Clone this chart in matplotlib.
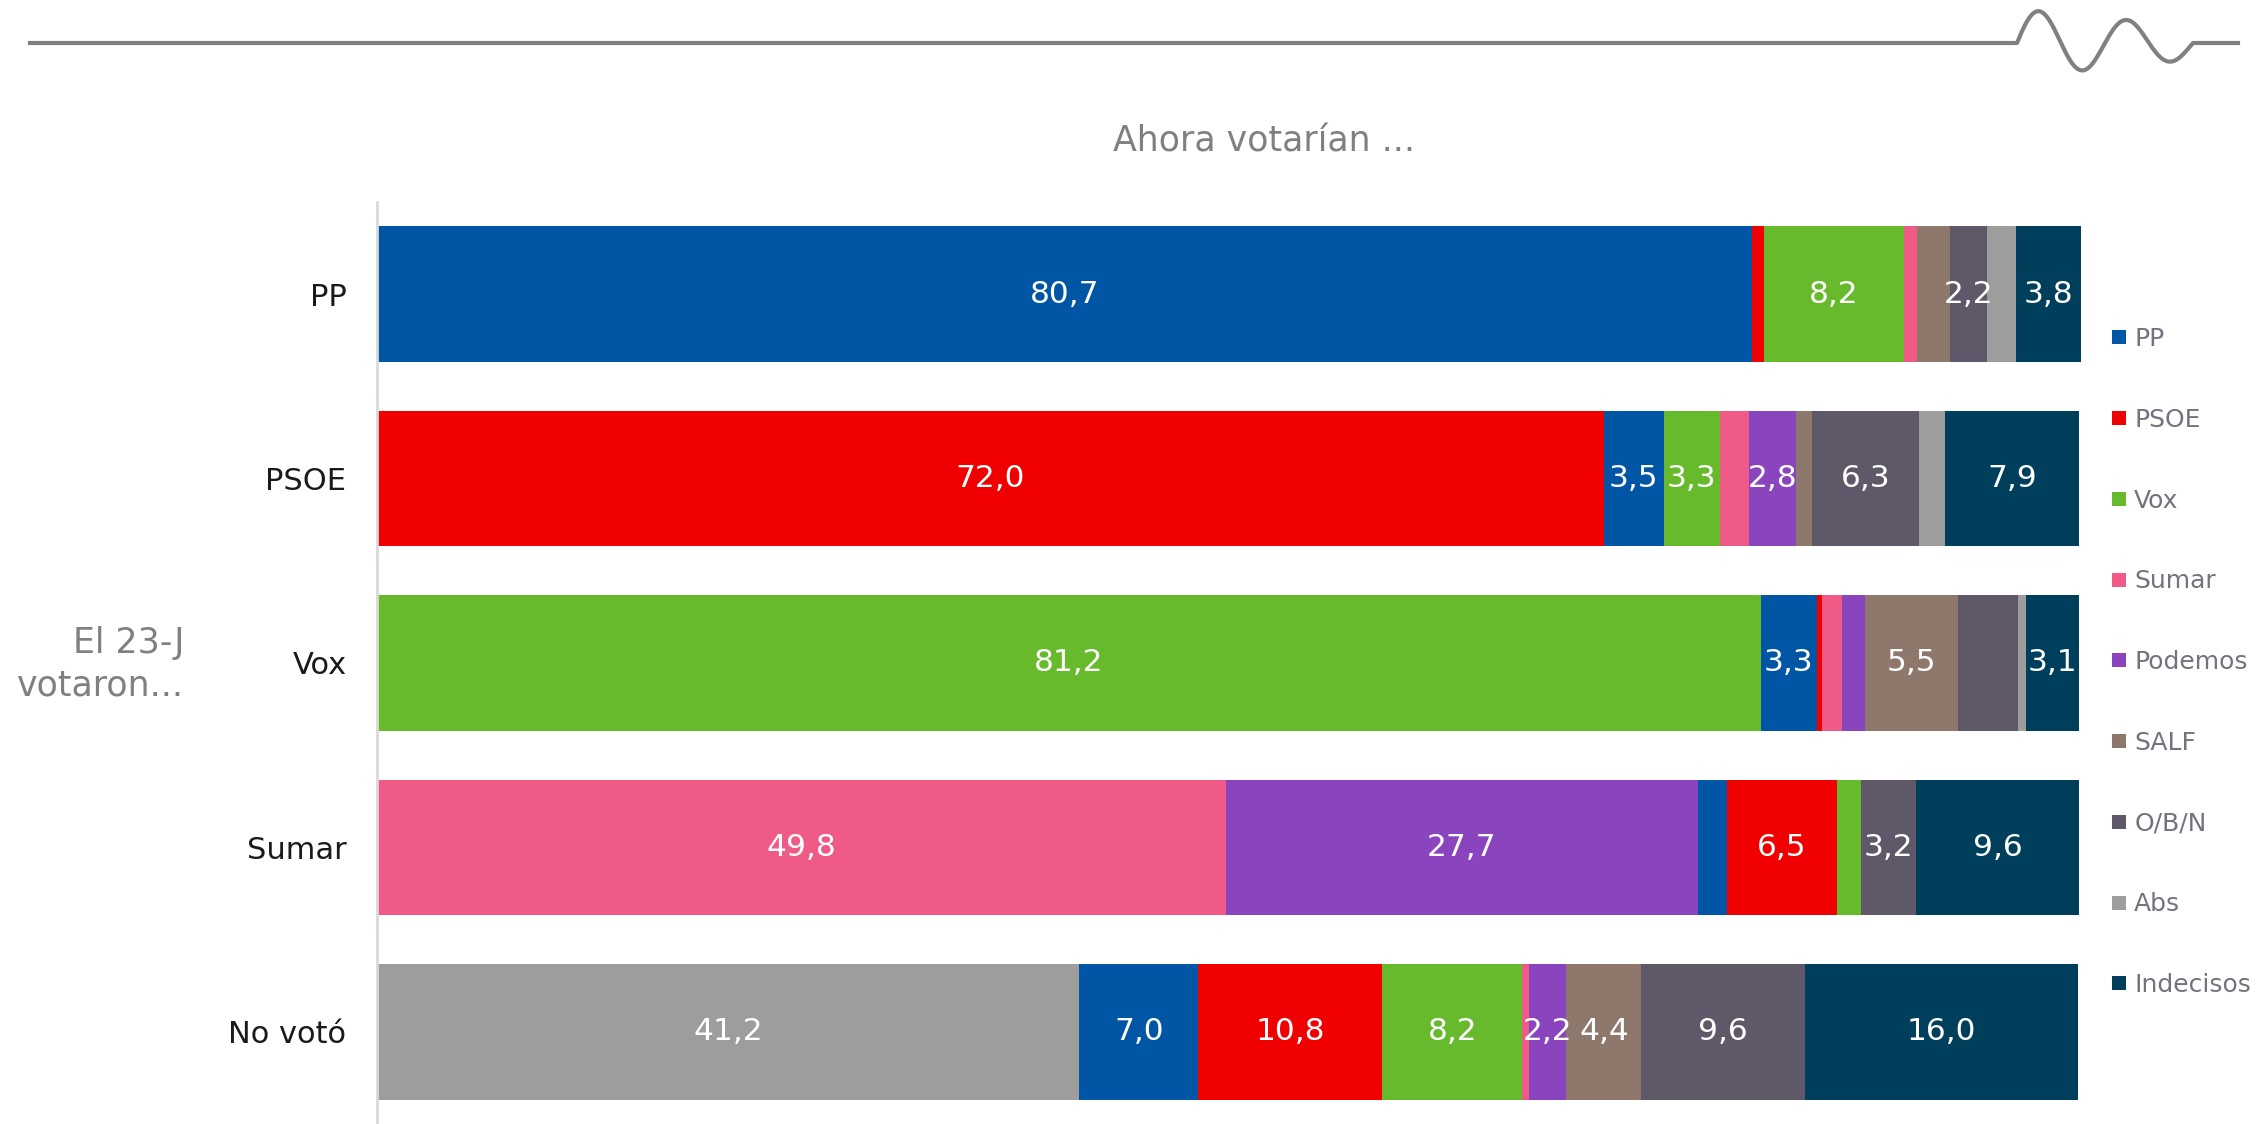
import numpy as np
import matplotlib
matplotlib.use("Agg")
import matplotlib.pyplot as plt
from matplotlib.lines import Line2D

# who they voted for on 23-J (rows) -> who they would vote for now (series)
rows = ["PP", "PSOE", "Vox", "Sumar", "No votó"]
parties = ["PP", "PSOE", "Vox", "Sumar", "Podemos", "SALF", "O/B/N", "Abs", "Indecisos"]

pp = [80.7, 3.5, 3.3, 1.7, 7.0]
psoe = [0.7, 72.0, 0.3, 6.5, 10.8]
vox = [8.2, 3.3, 81.2, 1.4, 8.2]
sumar = [0.8, 1.7, 1.2, 49.8, 0.4]
podemos = [0.0, 2.8, 1.3, 27.7, 2.2]
salf = [1.9, 0.9, 5.5, 0.0, 4.4]
obn = [2.2, 6.3, 3.5, 3.2, 9.6]
abst = [1.7, 1.5, 0.5, 0.0, 41.2]
indecisos = [3.8, 7.9, 3.1, 9.6, 16.0]

# segments that go first in each row, the rest follow legend order
row_leads = [["PP"], ["PSOE"], ["Vox"], ["Sumar", "Podemos"], ["Abs"]]
# labels the original leaves out
unlabeled = [("Vox", "O/B/N")]

colors = {
    "PP": "#0055a5",
    "PSOE": "#f00000",
    "Vox": "#67ba2c",
    "Sumar": "#f05a87",
    "Podemos": "#8a44be",
    "SALF": "#8e786c",
    "O/B/N": "#5e5868",
    "Abs": "#9c9d9c",
    "Indecisos": "#003f5c",
}

values = dict(zip(parties, [pp, psoe, vox, sumar, podemos, salf, obn, abst, indecisos]))

plt.rcParams["font.family"] = ["DejaVu Sans"]

W, H = 2258, 1124
fig = plt.figure(figsize=(W / 100, H / 100), dpi=100)
ax = fig.add_axes([377 / W, 0, (2081 - 377) / W, (H - 202) / H])

for i, row in enumerate(rows):
    order = row_leads[i] + [p for p in parties if p not in row_leads[i]]
    left = 0.0
    for p in order:
        v = values[p][i]
        if v <= 0:
            continue
        bars = ax.barh(i, v, left=left, height=0.735, color=colors[p], linewidth=0)
        if v >= 2.0 and (row, p) not in unlabeled:
            ax.bar_label(bars, labels=[f"{v:.1f}".replace(".", ",")], label_type="center",
                         color="white", fontsize=22.5)
        left += v

ax.set_xlim(0, 100)
ax.set_ylim(4.5, -0.5)
ax.set_yticks(range(len(rows)))
ax.set_yticklabels(rows, fontsize=22, color="#1a1a1a")
ax.tick_params(axis="y", length=0, pad=22)
ax.set_xticks([])
for s in ["top", "right", "bottom"]:
    ax.spines[s].set_visible(False)
ax.spines["left"].set_color("#d9d9d9")
ax.spines["left"].set_linewidth(2)

# legend on the right
handles = [Line2D([], [], marker="s", linestyle="none", markersize=10,
                  markerfacecolor=colors[p], markeredgewidth=0) for p in parties]
fig.legend(handles, parties, loc="center left", bbox_to_anchor=(2098 / W, 1 - 662 / H),
           frameon=False, fontsize=18, labelcolor="#77717f", handlelength=0.65,
           handletextpad=0.3, labelspacing=2.27, borderpad=0)

fig.text(1264 / W, 1 - 141 / H, "Ahora votarían ...", ha="center", va="center",
         fontsize=25, color="#808080")
fig.text(184 / W, 1 - 664 / H, "El 23-J\nvotaron...", ha="right", va="center",
         fontsize=25, color="#808080", multialignment="right", linespacing=1.3)

# header rule with the little wave at the end
t = np.linspace(0, 176, 200)
amp = 34 - 0.1 * t
wx = np.concatenate([[30], 2017 + t, [2238]])
wy = np.concatenate([[43], 43 - amp * np.sin(2 * np.pi * t / 88), [43]])
fig.add_artist(Line2D(wx / W, 1 - wy / H, color="#808080", linewidth=3,
                      transform=fig.transFigure))

fig.savefig("out.png", dpi=100)
